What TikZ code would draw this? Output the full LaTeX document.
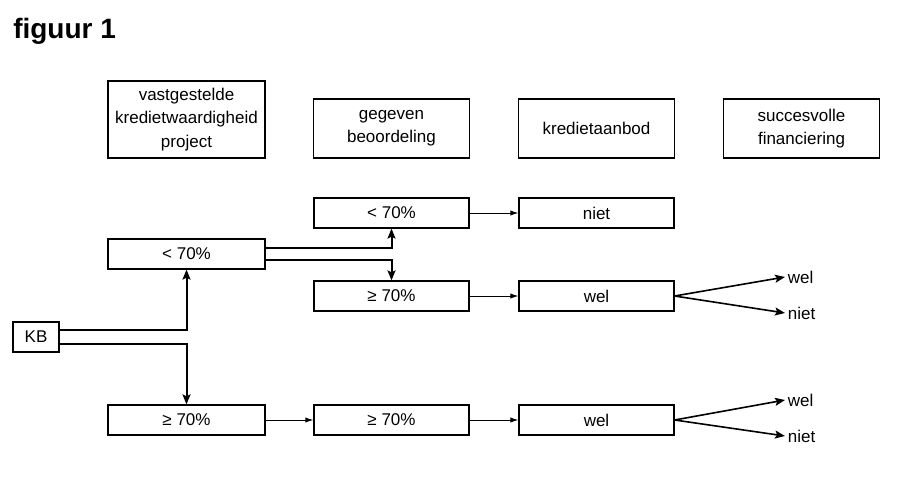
\documentclass[tikz,border=0pt]{standalone}
\usepackage{fontspec}
\setmainfont{Liberation Sans}
\usepackage{tikz}
\usetikzlibrary{shapes, arrows, arrows.meta, calc}
\tikzstyle{header} = [rectangle, draw, line width=0.9pt, fill=white,
    text width=110pt, align=center, minimum width=116.25pt, minimum height=44.25pt,
    font=\fontsize{12.75}{17.5}\selectfont]
\tikzstyle{box} = [rectangle, draw, line width=0.9pt, fill=white,
    minimum width=116.25pt, minimum height=22.5pt, inner sep=0pt,
    font=\fontsize{12.75}{17.5}\selectfont]
\tikzstyle{outcome} = [anchor=west, inner sep=2pt,
    font=\fontsize{12.75}{17.5}\selectfont]
\tikzstyle{line} = [draw, line width=0.75pt, -{Latex[length=6pt,width=4pt]}]
\tikzstyle{flow} = [draw, line width=1.5pt, -{Stealth[length=7.5pt,width=6pt,inset=1.5pt]}]

\begin{document}
\begin{tikzpicture}[x=0.75pt, y=-0.75pt, node distance=153.75pt]
    \useasboundingbox (0,0) rectangle (900,492);
    % Title
    \node [anchor=base west, inner sep=0pt, font=\bfseries\fontsize{21}{25}\selectfont] (titel) at (13,39) {figuur 1};
    % Headers
    \node [header, minimum width=117.75pt, minimum height=57.75pt] (vastgesteld) at (186.5,119.5) {vastgestelde\\kredietwaardigheid\\project};
    \node [header] (beoordeling) at (391.5,128.5) {gegeven\\beoordeling};
    \node [header, right of=beoordeling] (aanbod) {kredietaanbod};
    \node [header, right of=aanbod] (financiering) {succesvolle\\financiering};
    % Boxes
    \node [box, minimum width=34.5pt] (kb) at (36,337) {KB};
    \node [box, minimum width=117.75pt] (laagA) at (186.5,254) {< 70\%};
    \node [box, minimum width=117.75pt] (hoogA) at (186.5,420) {≥ 70\%};
    \node [box] (laagB) at (391.5,213) {< 70\%};
    \node [box, right of=laagB] (nietB) {niet};
    \node [box] (hoogB) at (391.5,296) {≥ 70\%};
    \node [box, right of=hoogB] (welB) {wel};
    \node [box, right of=hoogA] (hoogC) {≥ 70\%};
    \node [box, right of=hoogC] (welC) {wel};
    % Outcomes
    \node [outcome] (welB1) at (785,277) {wel};
    \node [outcome] (welB2) at (785,313) {niet};
    \node [outcome] (welC1) at (785,400) {wel};
    \node [outcome] (welC2) at (785,436) {niet};
    % Edges
    \path [flow] ([yshift=4.9pt]kb.east) -| (laagA);
    \path [flow] ([yshift=-4.9pt]kb.east) -| (hoogA);
    \path [flow] ([yshift=4.5pt]laagA.east) -| (laagB);
    \path [flow] ([yshift=-4.5pt]laagA.east) -| (hoogB);
    \path [line] (laagB) -- (nietB);
    \path [line] (hoogB) -- (welB);
    \path [line] (hoogA) -- (hoogC);
    \path [line] (hoogC) -- (welC);
    \path [flow, line width=1.2pt] (welB.east) -- (welB1.west);
    \path [flow, line width=1.2pt] (welB.east) -- (welB2.west);
    \path [flow, line width=1.2pt] (welC.east) -- (welC1.west);
    \path [flow, line width=1.2pt] (welC.east) -- (welC2.west);
\end{tikzpicture}
\end{document}
